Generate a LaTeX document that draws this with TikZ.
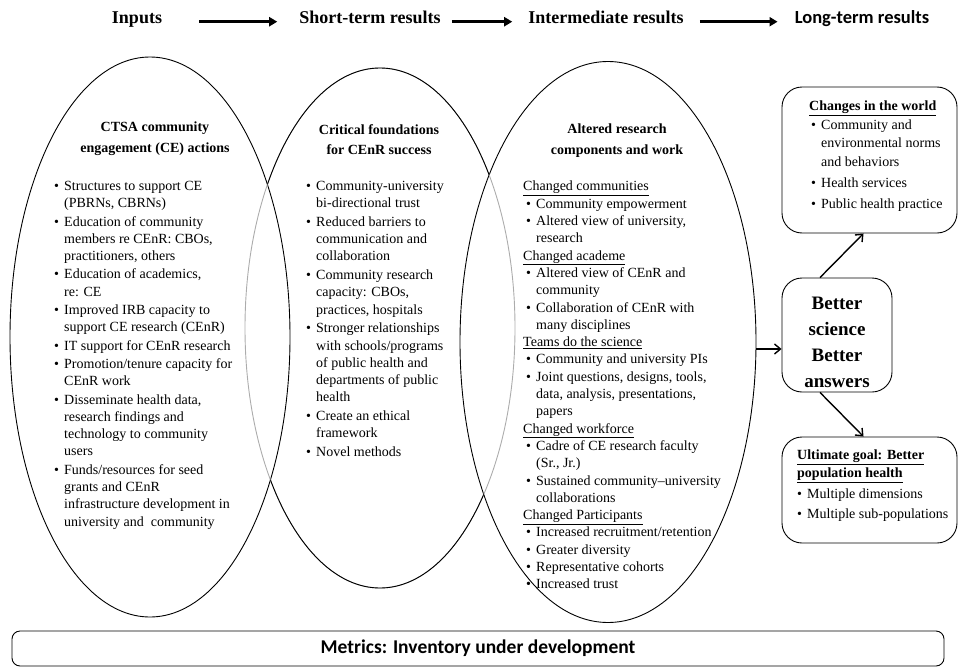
\documentclass[tikz,border=0pt]{standalone}
\usepackage{fontspec}
\setmainfont{Liberation Serif}
\newfontfamily\calibri{Carlito}
\usetikzlibrary{shapes.geometric, positioning, arrows.meta}

\newcommand{\bul}{\makebox[10pt][l]{\textbullet}}
\newcommand{\ind}{\hspace*{10pt}}
\newcommand{\subhd}[1]{\hspace*{-3pt}\underline{#1}}

\begin{document}
\begin{tikzpicture}[
    x=1pt, y=-1pt,
    hdr/.style={font=\fontsize{18}{21}\selectfont\bfseries, inner sep=0pt, anchor=base},
    hdrline/.style={draw, line width=2.6pt, -{Triangle[length=8pt, width=9pt]}},
    oval/.style={ellipse, draw, line width=0.9pt, inner sep=0pt},
    body/.style={font=\fontsize{14}{17.3}\selectfont, align=left, inner sep=0pt, anchor=north west},
    title/.style={font=\fontsize{14}{20.5}\selectfont\bfseries, align=center, inner sep=0pt, anchor=north},
    card/.style={draw, line width=0.9pt, rounded corners=20pt, inner sep=0pt},
    link/.style={draw, line width=1.4pt, -{Straight Barb[length=6pt, width=10pt]}}
]
    \useasboundingbox (0,0) rectangle (958,669);

    % Header row
    \node [hdr] (inputs) at (137,24) {Inputs};
    \node [hdr] (shortterm) at (370,24) {Short-term results};
    \node [hdr] (interm) at (606,24) {Intermediate results};
    \node [hdr, font=\calibri\fontsize{18.5}{21}\selectfont\bfseries] (longterm) at (862,24) {Long-term results};
    \draw [hdrline, shorten <=37pt, shorten >=22pt] (inputs.mid east) -- (shortterm.mid west);
    \draw [hdrline, shorten <=11pt, shorten >=16pt] (shortterm.mid east) -- (interm.mid west);
    \draw [hdrline, shorten <=16pt, shorten >=17pt] (interm.mid east) -- (longterm.mid west);

    % Ovals
    \node [oval, minimum width=280pt, minimum height=560pt] (actions) at (150,337) {};
    \node [oval, minimum width=296pt, minimum height=561pt] (altered) at (608,342) {};
    \node [oval, draw=gray!65, minimum width=270pt, minimum height=520pt] (found) at (380,328) {};
    \begin{scope}[even odd rule]
        \clip (0,0) rectangle (958,669)
            (actions.center) ellipse [x radius=140, y radius=280]
            (altered.center) ellipse [x radius=148, y radius=280.5];
        \draw [line width=0.9pt] (found.center) ellipse [x radius=135, y radius=260];
    \end{scope}

    % Inputs oval
    \node [title] (actionstitle) at (155,122) {CTSA community\\engagement (CE) actions};
    \node [body] (actionslist) at (54,181) {%
        \bul Structures to support CE\\
        \ind (PBRNs, CBRNs)\\[1pt]
        \bul Education of community\\
        \ind members re CEnR: CBOs,\\
        \ind practitioners, others\\[1pt]
        \bul Education of academics,\\
        \ind re: CE\\[1pt]
        \bul Improved IRB capacity to\\
        \ind support CE research (CEnR)\\[1pt]
        \bul IT support for CEnR research\\[1pt]
        \bul Promotion/tenure capacity for\\
        \ind CEnR work\\[1pt]
        \bul Disseminate health data,\\
        \ind research findings and\\
        \ind technology to community\\
        \ind users\\[1pt]
        \bul Funds/resources for seed\\
        \ind grants and CEnR\\
        \ind infrastructure development in\\
        \ind university and\ \ community};

    % Short-term oval
    \node [title] (foundtitle) at (379,124) {Critical foundations\\for CEnR success};
    \node [body] (foundlist) at (306,181) {%
        \bul Community-university\\
        \ind bi-directional trust\\[1.3pt]
        \bul Reduced barriers to\\
        \ind communication and\\
        \ind collaboration\\[1.3pt]
        \bul Community research\\
        \ind capacity: CBOs,\\
        \ind practices, hospitals\\[1.3pt]
        \bul Stronger relationships\\
        \ind with schools/programs\\
        \ind of public health and\\
        \ind departments of public\\
        \ind health\\[1.3pt]
        \bul Create an ethical\\
        \ind framework\\[1.3pt]
        \bul Novel methods};

    % Intermediate oval
    \node [title] (alteredtitle) at (617,124) {Altered research\\components and work};
    \node [body] (alteredlist) at (526,181) {%
        \subhd{Changed communities}\\
        \bul Community empowerment\\
        \bul Altered view of university,\\
        \ind research\\
        \subhd{Changed academe}\\
        \bul Altered view of CEnR and\\
        \ind community\\
        \bul Collaboration of CEnR with\\
        \ind many disciplines\\
        \subhd{Teams do the science}\\
        \bul Community and university PIs\\
        \bul Joint questions, designs, tools,\\
        \ind data, analysis, presentations,\\
        \ind papers\\
        \subhd{Changed workforce}\\
        \bul Cadre of CE research faculty\\
        \ind (Sr., Jr.)\\
        \bul Sustained community--university\\
        \ind collaborations\\
        \subhd{Changed Participants}\\
        \bul Increased recruitment/retention\\
        \bul Greater diversity\\
        \bul Representative cohorts\\
        \bul Increased trust};

    % Long-term boxes
    \node [card, minimum width=110pt, minimum height=114pt, align=center,
           font=\fontsize{19}{26}\selectfont\bfseries] (better) at (837,335) {\rule{0pt}{27pt}Better\\science\\Better\\answers};
    \node [card, minimum width=175pt, minimum height=146pt] (changes) at (869.5,160) {};
    \node [body, font=\fontsize{14}{18.5}\selectfont] (changestext) at (809,101) {%
        \textbf{\underline{Changes in the world}}\\
        \hspace*{2pt}\bul Community and\\
        \hspace*{2pt}\ind environmental norms\\
        \hspace*{2pt}\ind and behaviors\\[2.5pt]
        \hspace*{2pt}\bul Health services\\[2.5pt]
        \hspace*{2pt}\bul Public health practice};
    \node [card, minimum width=175pt, minimum height=106pt] (goal) at (869.5,490) {};
    \node [body, font=\fontsize{14}{18}\selectfont] (goaltext) at (797,450) {%
        \textbf{\underline{Ultimate goal: Better}}\\
        \textbf{\underline{population health}}\\[3pt]
        \bul Multiple dimensions\\[2pt]
        \bul Multiple sub-populations};

    \draw [link] ([yshift=-7pt]altered.east) -- ([yshift=-7pt]altered.east -| better.west);
    \draw [link] ([xshift=-17pt]better.north) -- ([xshift=-6pt]changes.south);
    \draw [link] ([xshift=-17pt]better.south) -- ([xshift=-6pt]goal.north);

    % Metrics bar
    \node [draw, line width=0.9pt, rounded corners=8pt, minimum width=932pt, minimum height=35pt,
           font=\calibri\fontsize{19.5}{22}\selectfont\bfseries] (metrics) at (478,648.5) {Metrics: Inventory under development};

\end{tikzpicture}
\end{document}
